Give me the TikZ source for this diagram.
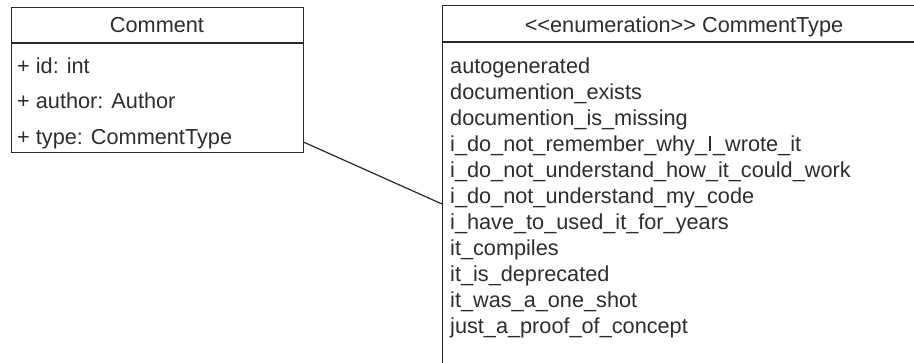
\documentclass[tikz,border=0pt]{standalone}
\usepackage{fontspec}
\setmainfont{Liberation Sans}[Ligatures=TeXOff]
\usetikzlibrary{calc}
\definecolor{ink}{RGB}{45,45,45}
\definecolor{edge}{RGB}{40,40,40}
\tikzset{
  box/.style={draw=edge, line width=1.2pt, rectangle, inner sep=0pt, anchor=north west},
  txt/.style={text=ink, inner sep=0pt, anchor=base west, font=\fontsize{21.7pt}{26pt}\selectfont},
  head/.style={text=ink, inner sep=0pt, anchor=base, font=\fontsize{21.7pt}{26pt}\selectfont},
  link/.style={draw=edge, line width=1.2pt}
}
\begin{document}
\begin{tikzpicture}[x=1pt,y=-1pt]
\useasboundingbox (0,0) rectangle (914,363);
\clip (0,0) rectangle (914,363);
% Comment class
\node[box, minimum width=292pt, minimum height=145pt] (comment) at (11,7) {};
\draw[link] ([yshift=-36pt]comment.north west) -- ([yshift=-36pt]comment.north east);
\node[head] (chead) at (157,33) {Comment};
\node[txt] (cid) at (17,74) {+ id: int};
\node[txt] (cauthor) at (17,109) {+ author: Author};
\node[txt] (ctype) at (17,145) {+ type: CommentType};
% Enumeration
\node[box, minimum width=484pt, minimum height=420pt] (enum) at (442,5) {};
\draw[link] ([yshift=-37pt]enum.north west) -- ([yshift=-37pt]enum.north east);
\node[head] (ehead) at (684,33) {<<enumeration>> CommentType};
\node[txt] (e1) at (450,74) {autogenerated};
\node[txt] (e2) at (450,100) {documention\_exists};
\node[txt] (e3) at (450,126) {documention\_is\_missing};
\node[txt] (e4) at (450,152) {i\_do\_not\_remember\_why\_I\_wrote\_it};
\node[txt] (e5) at (450,178) {i\_do\_not\_understand\_how\_it\_could\_work};
\node[txt] (e6) at (450,204) {i\_do\_not\_understand\_my\_code};
\node[txt] (e7) at (450,230) {i\_have\_to\_used\_it\_for\_years};
\node[txt] (e8) at (450,256) {it\_compiles};
\node[txt] (e9) at (450,282) {it\_is\_deprecated};
\node[txt] (e10) at (450,308) {it\_was\_a\_one\_shot};
\node[txt] (e11) at (450,334) {just\_a\_proof\_of\_concept};
% association
\draw[link] (comment.east |- ctype.mid) -- (enum.west |- e6.base);
\end{tikzpicture}
\end{document}
